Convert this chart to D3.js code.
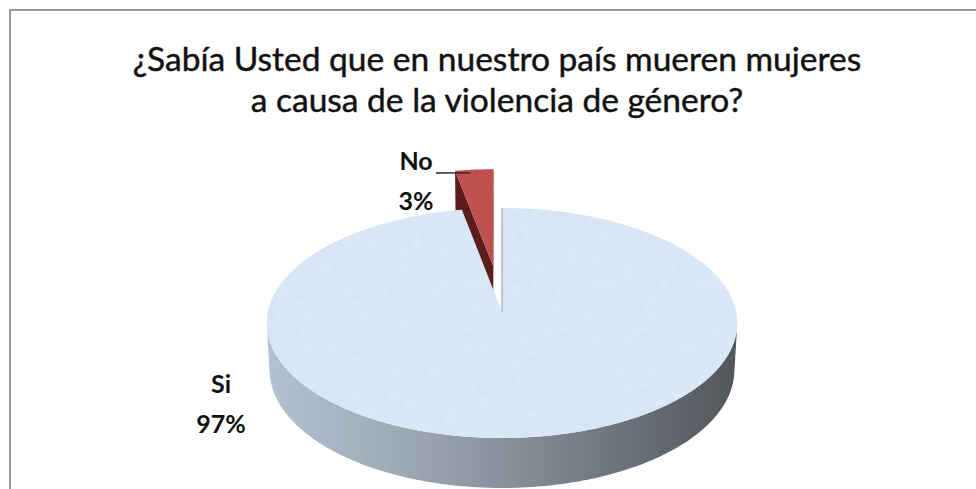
<!DOCTYPE html>
<html>
<head>
<meta charset="utf-8">
<script src="https://cdn.jsdelivr.net/npm/d3@7"></script>
<style>
  html, body { margin: 0; padding: 0; background: #ffffff; overflow: hidden; }
  svg { display: block; }
</style>
</head>
<body>
<svg id="chart" width="976" height="489"></svg>
<script>
// ---- data ----
const categories = ["Si", "No"];
const values = [97, 3];
const valueLabels = ["97%", "3%"];
const titleLines = [
  "¿Sabía Usted que en nuestro país mueren mujeres",
  "a causa de la violencia de género?"
];

// ---- layout ----
const W = 976, H = 489;
const svg = d3.select("#chart");
const defs = svg.append("defs");

// chart frame (runs past the right and bottom edges)
svg.append("rect")
  .attr("x", 10).attr("y", 10)
  .attr("width", W + 40).attr("height", H + 40)
  .attr("fill", "#ffffff")
  .attr("stroke", "#9c9c9c")
  .attr("stroke-width", 2);

// title, fitted to its box width
const titleFont = "Lato, 'Open Sans', sans-serif";
const title = svg.append("g").attr("font-family", titleFont)
  .attr("fill", "#111").attr("stroke", "#111").attr("stroke-width", 0.45);
const tl1 = title.append("text").attr("x", 497).attr("y", 71).attr("text-anchor", "middle").text(titleLines[0]);
const tl2 = title.append("text").attr("x", 497).attr("y", 112).attr("text-anchor", "middle").text(titleLines[1]);
tl1.attr("font-size", 26);
const w1 = tl1.node().getComputedTextLength();
const titleSize = 26 * 729 / w1;
tl1.attr("font-size", titleSize);
tl2.attr("font-size", titleSize);

// ---- 3D pie geometry (perspective camera looking down at the disk) ----
const cam = { cx: 502, cy: 312, k: 2138, phi: 29.1 * Math.PI / 180, dist: 9.13 };
const sP = Math.sin(cam.phi), cP = Math.cos(cam.phi);
const camPos = [0, cam.dist * sP, cam.dist * cP];
const thickness = 0.2316;
const explodeDist = 0.426;

// x: right, y: up, z: toward the viewer
function project(x, y, z) {
  const depth = cam.dist - y * sP - z * cP;
  const vu = y * cP - z * sP;
  return [cam.cx + cam.k * x / depth, cam.cy - cam.k * vu / depth];
}
function rimPoint(theta, y, off) {
  return project(off[0] + Math.sin(theta), y, off[2] - Math.cos(theta));
}
function angles(a0, a1, step) {
  const n = Math.max(2, Math.ceil(Math.abs(a1 - a0) / step));
  return d3.range(n + 1).map(i => a0 + (a1 - a0) * i / n);
}
const line = d3.line().curve(d3.curveLinearClosed);

// pie layout: first slice starts at 12 o'clock, clockwise
const pie = d3.pie().sort(null).value(d => d.value).startAngle(0).endAngle(2 * Math.PI);
const slices = pie(categories.map((c, i) => ({ name: c, value: values[i], label: valueLabels[i] })));

const styles = {
  Si: { top: "#d7e5f5", side: "url(#sideGrad)", radial: "#9aa6b4" },
  No: { top: "#c0504d", side: "#6b2624", radial: "#5b1e1c" }
};
const exploded = { No: true };

// side gradient, light on the left to dark on the right
const grad = defs.append("linearGradient").attr("id", "sideGrad")
  .attr("gradientUnits", "userSpaceOnUse")
  .attr("x1", 265).attr("y1", 0).attr("x2", 740).attr("y2", 0);
[[0, "#b4c1d1"], [0.3, "#9da8b5"], [0.55, "#848b95"], [0.8, "#676d74"], [1, "#52565b"]]
  .forEach(([o, c]) => grad.append("stop").attr("offset", o).attr("stop-color", c));

// soft mottled texture on the blue top face
const tex = defs.append("filter").attr("id", "tissue").attr("x", 0).attr("y", 0).attr("width", 1).attr("height", 1);
tex.append("feTurbulence").attr("type", "fractalNoise").attr("baseFrequency", 0.09)
  .attr("numOctaves", 3).attr("seed", 7).attr("result", "noise");
tex.append("feColorMatrix").attr("in", "noise").attr("type", "matrix")
  .attr("values", "0 0 0 0 0.78  0 0 0 0 0.86  0 0 0 0 0.96  0 0 0 0.7 -0.22")
  .attr("result", "tint");
tex.append("feComposite").attr("in", "tint").attr("in2", "SourceGraphic").attr("operator", "in").attr("result", "tintIn");
const merge = tex.append("feMerge");
merge.append("feMergeNode").attr("in", "SourceGraphic");
merge.append("feMergeNode").attr("in", "tintIn");

function offsetOf(d) {
  if (!exploded[d.data.name]) return [0, 0, 0];
  const mid = (d.startAngle + d.endAngle) / 2;
  return [explodeDist * Math.sin(mid), 0, -explodeDist * Math.cos(mid)];
}
// visibility of a face with outward normal n at point p
function faces(p, n) {
  return (camPos[0] - p[0]) * n[0] + (camPos[1] - p[1]) * n[1] + (camPos[2] - p[2]) * n[2] > 1e-6;
}

// draw farthest slices first
const order = slices.slice().sort((a, b) => offsetOf(a)[2] - offsetOf(b)[2]);
const pieG = svg.append("g");

order.forEach(d => {
  const off = offsetOf(d);
  const st = styles[d.data.name];
  const g = pieG.append("g");
  const a0 = d.startAngle, a1 = d.endAngle;
  const apexTop = project(off[0], 0, off[2]);
  const apexBot = project(off[0], -thickness, off[2]);

  // radial cut faces
  [[a0, -1], [a1, 1]].forEach(([a, sgn]) => {
    // outward normal: toward decreasing angle at a0, increasing at a1
    const n = [sgn * Math.cos(a), 0, sgn * Math.sin(a)];
    if (faces([off[0], 0, off[2]], n)) {
      g.append("path")
        .attr("d", line([apexTop, rimPoint(a, 0, off), rimPoint(a, -thickness, off), apexBot]))
        .attr("fill", st.radial);
    }
  });

  // outer curved side: visible where cos(theta) < -1/(dist*cos(phi)) for the centred disk
  const lim = Math.acos(-1 / (cam.dist * cP));
  const v0 = Math.max(a0, lim), v1 = Math.min(a1, 2 * Math.PI - lim);
  if (v1 > v0) {
    const arc = angles(v0, v1, 0.01);
    const pts = arc.map(t => rimPoint(t, 0, off))
      .concat(arc.slice().reverse().map(t => rimPoint(t, -thickness, off)));
    g.append("path").attr("d", line(pts)).attr("fill", st.side);
  }

  // top face
  const topPts = [apexTop].concat(angles(a0, a1, 0.01).map(t => rimPoint(t, 0, off)));
  g.append("path").attr("d", line(topPts)).attr("fill", st.top)
    .attr("filter", d.data.name === "Si" ? "url(#tissue)" : null);

  // thin edge where the large slice's flat cut meets the gap
  if (d.data.name === "Si") {
    g.append("path")
      .attr("d", d3.line()([apexTop, rimPoint(a0, 0, off)]))
      .attr("stroke", st.radial).attr("stroke-width", 1.2).attr("fill", "none");
  }
});

// ---- data labels ----
const labelPos = { Si: { x: 221, y: 393 }, No: { x: 416, y: 170 } };
const labels = svg.append("g")
  .attr("font-family", titleFont).attr("font-weight", 700)
  .attr("font-size", 25).attr("fill", "#111").attr("text-anchor", "middle");
slices.forEach(d => {
  const p = labelPos[d.data.name];
  labels.append("text").attr("x", p.x).attr("y", p.y).text(d.data.name);
  labels.append("text").attr("x", p.x).attr("y", p.y + 40).text(d.data.label);
});
// leader line to the small exploded slice
const noSlice = slices.find(d => d.data.name === "No");
const noOff = offsetOf(noSlice);
const leaderEnd = rimPoint((noSlice.startAngle * 0.6 + noSlice.endAngle * 0.4), 0, noOff);
svg.append("path")
  .attr("d", d3.line()([[436, 173], [leaderEnd[0], leaderEnd[1] + 3]]))
  .attr("stroke", "#222").attr("stroke-width", 1.3).attr("fill", "none");
</script>
</body>
</html>
